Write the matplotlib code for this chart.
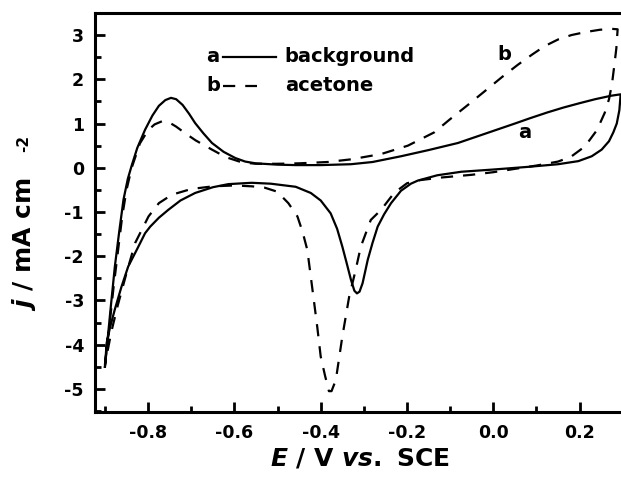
import matplotlib
matplotlib.use("Agg")
import matplotlib.pyplot as plt
from matplotlib.lines import Line2D
from matplotlib.ticker import MultipleLocator

# curve a: background (E in V vs. SCE, j in mA cm-2), in sweep order
bg_E = [-0.900, -0.893, -0.886, -0.877, -0.867, -0.857, -0.847, -0.838, -0.825, -0.807,
        -0.790, -0.775, -0.760, -0.747, -0.735, -0.720, -0.705, -0.691, -0.672, -0.652,
        -0.625, -0.598, -0.575, -0.551, -0.500, -0.458, -0.400, -0.330, -0.280, -0.214,
        -0.150, -0.082, -0.040, 0.008, 0.050, 0.085, 0.125, 0.162, 0.200, 0.236,
        0.274, 0.295,
        0.292, 0.286, 0.278, 0.268, 0.251, 0.228, 0.197, 0.150, 0.080, 0.000,
        -0.074, -0.130, -0.175, -0.191, -0.214, -0.237, -0.253, -0.268, -0.280, -0.291,
        -0.303, -0.310, -0.316, -0.322, -0.330, -0.340, -0.350, -0.362, -0.377, -0.400,
        -0.423, -0.458, -0.516, -0.560, -0.614, -0.650, -0.691, -0.725, -0.753, -0.775,
        -0.795, -0.807, -0.826, -0.846, -0.862, -0.877, -0.888, -0.896, -0.900]
bg_j = [-4.50, -3.80, -3.10, -2.23, -1.45, -0.72, -0.25, 0.05, 0.45, 0.86,
        1.18, 1.40, 1.53, 1.58, 1.55, 1.42, 1.22, 1.01, 0.78, 0.56,
        0.36, 0.22, 0.14, 0.10, 0.07, 0.06, 0.06, 0.08, 0.13, 0.26,
        0.40, 0.56, 0.70, 0.86, 1.00, 1.12, 1.25, 1.36, 1.46, 1.55,
        1.63, 1.66,
        1.30, 1.00, 0.80, 0.60, 0.41, 0.26, 0.15, 0.08, 0.02, -0.04,
        -0.09, -0.17, -0.29, -0.36, -0.52, -0.80, -1.05, -1.33, -1.70, -2.08,
        -2.61, -2.80, -2.84, -2.78, -2.53, -2.15, -1.78, -1.38, -1.03, -0.74,
        -0.57, -0.43, -0.36, -0.34, -0.37, -0.44, -0.57, -0.74, -0.95, -1.13,
        -1.33, -1.48, -1.85, -2.23, -2.70, -3.20, -3.60, -3.96, -4.50]

# curve b: acetone
ac_E = [-0.900, -0.890, -0.880, -0.870, -0.860, -0.850, -0.838, -0.819, -0.800, -0.785,
        -0.768, -0.752, -0.735, -0.714, -0.690, -0.652, -0.620, -0.582, -0.550, -0.500,
        -0.450, -0.384, -0.330, -0.260, -0.198, -0.137, -0.100, -0.059, -0.020, 0.020,
        0.057, 0.090, 0.119, 0.150, 0.181, 0.215, 0.247, 0.275, 0.288,
        0.285, 0.280, 0.275, 0.268, 0.258, 0.240, 0.212, 0.180, 0.150, 0.100,
        0.000, -0.051, -0.120, -0.170, -0.200, -0.230, -0.260, -0.284, -0.307, -0.320,
        -0.334, -0.350, -0.365, -0.375, -0.381, -0.390, -0.400, -0.408, -0.416, -0.431,
        -0.442, -0.454, -0.475, -0.501, -0.530, -0.559, -0.600, -0.650, -0.700, -0.745,
        -0.775, -0.799, -0.830, -0.850, -0.870, -0.885, -0.900]
ac_j = [-4.45, -3.60, -2.70, -1.90, -1.10, -0.50, 0.00, 0.55, 0.85, 0.98,
        1.05, 1.03, 0.93, 0.78, 0.62, 0.41, 0.24, 0.12, 0.09, 0.09,
        0.10, 0.13, 0.19, 0.31, 0.50, 0.80, 1.10, 1.42, 1.73, 2.05,
        2.33, 2.56, 2.75, 2.90, 3.00, 3.07, 3.12, 3.14, 3.13,
        2.70, 2.29, 1.90, 1.55, 1.24, 0.85, 0.48, 0.25, 0.14, 0.05,
        -0.10, -0.16, -0.22, -0.28, -0.35, -0.57, -0.95, -1.18, -1.78, -2.35,
        -2.91, -3.82, -4.80, -5.05, -5.05, -4.70, -4.27, -3.60, -2.99, -1.86,
        -1.45, -1.10, -0.80, -0.54, -0.45, -0.42, -0.40, -0.42, -0.48, -0.61,
        -0.80, -1.10, -1.70, -2.38, -3.10, -3.70, -4.45]

x_ticks = [-0.8, -0.6, -0.4, -0.2, 0.0, 0.2]
x_labels = ["-0.8", "-0.6", "-0.4", "-0.2", "0.0", "0.2"]
y_ticks = [-5, -4, -3, -2, -1, 0, 1, 2, 3]
y_labels = ["-5", "-4", "-3", "-2", "-1", "0", "1", "2", "3"]

plt.rcParams["font.family"] = "DejaVu Sans"
plt.rcParams["font.weight"] = "bold"
plt.rcParams["axes.labelweight"] = "bold"
plt.rcParams["mathtext.fontset"] = "custom"
plt.rcParams["mathtext.rm"] = "DejaVu Sans:bold"
plt.rcParams["mathtext.it"] = "DejaVu Sans:italic:bold"
plt.rcParams["mathtext.bf"] = "DejaVu Sans:bold"

fig = plt.figure(figsize=(6.21, 4.79), dpi=100)
ax = fig.add_axes([0.153, 0.140, 0.852, 0.833])

dash = (0, (5.5, 4.5))
ax.plot(bg_E, bg_j, color="black", lw=1.6, solid_joinstyle="round")
ax.plot(ac_E, ac_j, color="black", lw=1.6, linestyle=dash)

ax.set_xlim(-0.923, 0.303)
ax.set_ylim(-5.52, 3.5)
ax.set_xticks(x_ticks)
ax.set_xticklabels(x_labels)
ax.set_yticks(y_ticks)
ax.set_yticklabels(y_labels)
ax.xaxis.set_minor_locator(MultipleLocator(0.1))
ax.yaxis.set_minor_locator(MultipleLocator(0.5))
ax.tick_params(which="major", direction="in", length=7, width=2, labelsize=12.5,
               top=False, right=False)
ax.tick_params(axis="x", which="major", pad=9)
ax.tick_params(axis="y", which="major", pad=8)
ax.tick_params(which="minor", direction="in", length=4.5, width=2,
               top=False, right=False)
for s in ax.spines.values():
    s.set_linewidth(2.2)

ax.set_xlabel("$E$ / V $vs.$ SCE", fontsize=18, labelpad=3)
ax.set_ylabel("$j$ / mA cm", fontsize=18)
ax.yaxis.set_label_coords(-0.107, 0.42)
fig.text(0.038, 0.70, "-2", fontsize=11, rotation=90, ha="center", va="center")

# legend drawn by hand
tr = ax.transAxes
ax.text(0.223, 0.890, "a", transform=tr, fontsize=14, ha="center", va="center")
ax.add_line(Line2D([0.242, 0.343], [0.890, 0.890], transform=tr, color="black", lw=1.6))
ax.text(0.358, 0.890, "background", transform=tr, fontsize=14, va="center")
ax.text(0.223, 0.817, "b", transform=tr, fontsize=14, ha="center", va="center")
ax.add_line(Line2D([0.242, 0.307], [0.817, 0.817], transform=tr, color="black",
                   lw=1.6, linestyle=dash))
ax.text(0.360, 0.817, "acetone", transform=tr, fontsize=14, va="center")

# curve labels
ax.text(0.026, 2.56, "b", fontsize=14, ha="center", va="center")
ax.text(0.072, 0.79, "a", fontsize=14, ha="center", va="center")

fig.savefig("out.png", dpi=100)
